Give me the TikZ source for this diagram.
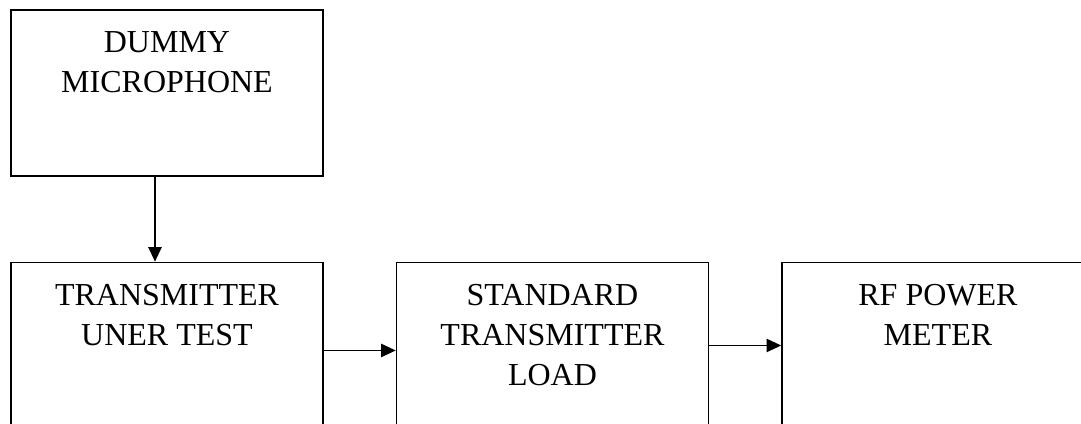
\documentclass[tikz,border=0pt]{standalone}
\usepackage{fontspec}
\setmainfont{Liberation Serif}
\usetikzlibrary{arrows.meta,positioning}

\begin{document}
\begin{tikzpicture}[x=0.75pt, y=-0.75pt,
  box/.style={draw, line width=1.1pt, minimum width=234pt, minimum height=124.5pt, inner sep=0pt},
  lbl/.style={align=center, inner sep=0pt, font=\fontsize{24}{30}\selectfont},
  arr/.style={-{Triangle[length=11pt, width=10pt]}, line width=1.1pt}]
\useasboundingbox (0,0) rectangle (1081,424);
\clip (0,0) rectangle (1081,424);
\node[box] (mic) at (167,93) {};
\node[box, below=63.75pt of mic] (tx) {};
\node[box, right=54pt of tx] (std) {};
\node[box, right=54pt of std] (rf) {};
\node[lbl, below=16.5pt of mic.north] (micl) {DUMMY\\MICROPHONE};
\node[lbl, below=16.5pt of tx.north] (txl) {TRANSMITTER\\UNER TEST};
\node[lbl, below=16.5pt of std.north] (stdl) {STANDARD\\TRANSMITTER\\LOAD};
\node[lbl, below=16.5pt of rf.north] (rfl) {RF POWER\\METER};
\draw[arr] ([xshift=-9pt]mic.south) -- ([xshift=-9pt]tx.north);
\draw[arr] ([yshift=-3.75pt]tx.east) -- ([yshift=-3.75pt]std.west);
\draw[arr] (std.east) -- (rf.west);
\end{tikzpicture}
\end{document}
